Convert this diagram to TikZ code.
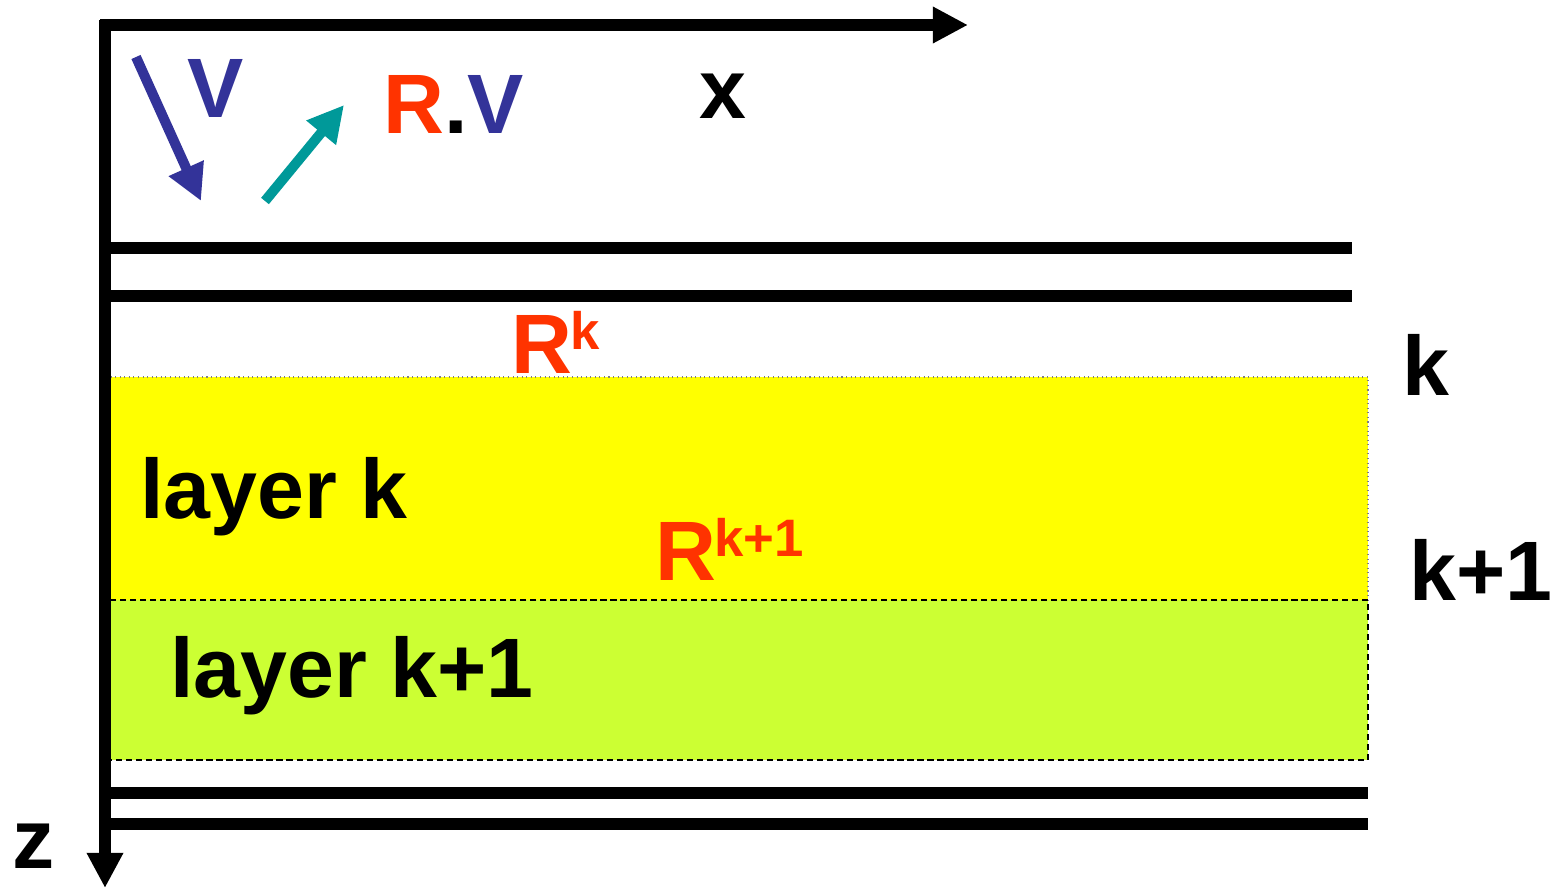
\documentclass[tikz,border=0pt]{standalone}
\usepackage{fontspec}
\setmainfont{Liberation Sans}
\usetikzlibrary{arrows.meta}
\definecolor{rred}{HTML}{FF3300}
\definecolor{vblue}{HTML}{333399}
\definecolor{tteal}{HTML}{009999}
\definecolor{lyellow}{HTML}{FFFF00}
\definecolor{lgreen}{HTML}{CCFF33}
\tikzset{
  axis/.style={line width=6.5pt,-{Triangle[length=20pt,width=19.5pt]}},
  thickline/.style={line width=6.5pt},
  vec/.style={line width=5.7pt,-{Triangle[length=20.5pt,width=20.5pt]}},
  big/.style={inner sep=0pt,anchor=base west,font=\fontsize{48}{50}\selectfont\bfseries},
  sup/.style={inner sep=0pt,anchor=base west,font=\fontsize{30}{32}\selectfont\bfseries},
}
\begin{document}
\begin{tikzpicture}[x=0.02cm,y=-0.02cm]
\useasboundingbox (0,0) rectangle (1553,889);
% layers
\fill[lyellow] (106,377) rectangle (1368,600);
\draw[gray,line width=0.6pt,dotted] (106,377) -- (1368,377) -- (1368,600);
\draw[gray,line width=0.6pt,dotted] (106,377) -- (106,600);
\fill[lgreen] (106,600) rectangle (1368,760);
\draw[black,line width=0.9pt,dash pattern=on 3.5pt off 2.2pt] (106,600) rectangle (1368,760);
% horizontal lines
\coordinate (h1a) at (110,248); \coordinate (h1b) at (1352,248);
\coordinate (h2a) at (110,296); \coordinate (h2b) at (1352,296);
\coordinate (h3a) at (110,793); \coordinate (h3b) at (1368,793);
\coordinate (h4a) at (110,824); \coordinate (h4b) at (1368,824);
\draw[thickline] (h1a) -- (h1b);
\draw[thickline] (h2a) -- (h2b);
\draw[thickline] (h3a) -- (h3b);
\draw[thickline] (h4a) -- (h4b);
% axes
\coordinate (xstart) at (100,25);
\coordinate (xend) at (968,25);
\coordinate (zstart) at (105,20);
\coordinate (zend) at (105,888);
\draw[axis] (xstart) -- (xend);
\draw[axis] (zstart) -- (zend);
% vectors
\coordinate (v1) at (136,57); \coordinate (v2) at (201,201);
\draw[vec,vblue] (v1) -- (v2);
\coordinate (t1) at (265,201); \coordinate (t2) at (344,105);
\draw[vec,tteal] (t1) -- (t2);
% labels
\node[big,text=vblue] (V) at (187,117) {V};
\node[big,text=rred] (RV) at (383,133) {R\textcolor{black}{.}\textcolor{vblue}{V}};
\node[big] (x) at (699,118) {x};
\node[big] (z) at (12,868) {z};
\node[big,text=rred] (Rk) at (511,373) {R};
\node[sup,text=rred] (Rksup) at (570,349) {k};
\node[big] (k) at (1402,395) {k};
\node[big] (layerk) at (140,518) {layer k};
\node[big,text=rred] (Rk1) at (655,580) {R};
\node[sup,text=rred] (Rk1sup) at (714,556) {k+1};
\node[big] (k1) at (1409,600) {k+1};
\node[big] (layerk1) at (170,697) {layer k+1};
\end{tikzpicture}
\end{document}
